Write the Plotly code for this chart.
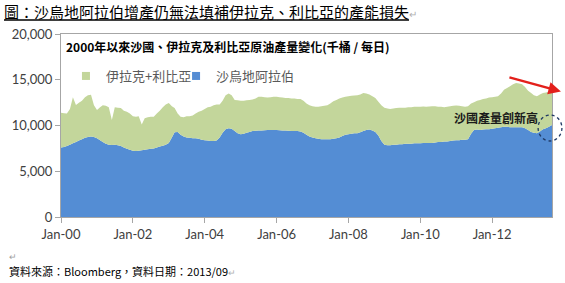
import pandas as pd
import plotly.graph_objects as go

# ---- data (thousand barrels / day), monthly Jan-2000 .. Sep-2013 ----
months = pd.date_range("2000-01-01", periods=165, freq="MS")

saudi = [
    7600, 7650, 7750, 7900, 8050, 8200, 8350, 8500, 8650, 8750, 8800, 8750,   # 2000
    8600, 8400, 8200, 8000, 7900, 7880, 7900, 7850, 7750, 7600, 7450, 7350,   # 2001
    7250, 7200, 7250, 7300, 7350, 7400, 7450, 7500, 7600, 7700, 7800, 7900,   # 2002
    8100, 8700, 9250, 9300, 9000, 8800, 8700, 8650, 8600, 8600, 8550, 8450,   # 2003
    8400, 8350, 8300, 8300, 8350, 8700, 9200, 9600, 9700, 9650, 9400, 9150,   # 2004
    9050, 9100, 9200, 9300, 9400, 9420, 9450, 9450, 9480, 9500, 9500, 9500,   # 2005
    9500, 9480, 9450, 9450, 9430, 9400, 9400, 9400, 9350, 9200, 9000, 8800,   # 2006
    8700, 8600, 8550, 8500, 8500, 8500, 8500, 8550, 8600, 8700, 8850, 9000,   # 2007
    9050, 9100, 9150, 9150, 9250, 9400, 9500, 9550, 9450, 9300, 8900, 8300,   # 2008
    7900, 7850, 7850, 7900, 7900, 7950, 7950, 8000, 8000, 8000, 8050, 8050,   # 2009
    8050, 8100, 8100, 8100, 8100, 8150, 8200, 8200, 8250, 8250, 8300, 8350,   # 2010
    8400, 8400, 8450, 8450, 8500, 9100, 9500, 9550, 9500, 9550, 9600, 9600,   # 2011
    9650, 9700, 9750, 9800, 9850, 9850, 9800, 9800, 9800, 9820, 9800, 9700,   # 2012
    9500, 9300, 9200, 9150, 9350, 9600, 9700, 9850, 10050,                    # 2013
]

# top of the stacked area (Saudi + Iraq + Libya)
total = [
    11400, 11350, 11300, 11800, 13100, 12250, 12500, 12700, 13100, 13300, 13350, 12200,
    11700, 12000, 12200, 12150, 12000, 10600, 12000, 11950, 11900, 11600, 11500, 11300,
    11000, 10950, 11000, 10100, 10800, 10900, 10950, 10950, 11300, 11600, 12000, 12300,
    12450, 12100, 11900, 11300, 10950, 10900, 11000, 11000, 11100, 11300, 11500, 11600,
    11800, 12000, 12050, 12200, 12300, 12300, 12700, 13300, 13500, 13300, 12800, 12750,
    12700, 12700, 12750, 12800, 12850, 12950, 13150, 13150, 13100, 13050, 13100, 13150,
    13150, 13100, 13050, 13000, 13000, 12950, 12950, 12900, 12900, 12700, 12400, 12200,
    12100, 12050, 12050, 12100, 12150, 12200, 12400, 12650, 12800, 12950, 13050, 13150,
    13200, 13250, 13280, 13300, 13400, 13550, 13500, 13400, 13200, 13000, 12600, 12200,
    11950, 11850, 11800, 11850, 11900, 11950, 11950, 11950, 12000, 12000, 12050, 12050,
    12050, 12070, 12050, 12080, 12100, 12100, 12050, 12050, 12000, 12050, 12100, 12150,
    12180, 12150, 12100, 12050, 12100, 12400, 12550, 12700, 12800, 12900, 12950, 13050,
    13100, 13150, 13200, 13500, 13900, 14100, 14300, 14500, 14650, 14600, 14500, 14200,
    13800, 13550, 13300, 13200, 13400, 13550, 13600, 13700, 13750,
]
iraq_libya = [t - s for t, s in zip(total, saudi)]

x_tick_vals = ["2000-01-01", "2002-01-01", "2004-01-01", "2006-01-01",
               "2008-01-01", "2010-01-01", "2012-01-01"]
x_tick_text = ["Jan-00", "Jan-02", "Jan-04", "Jan-06", "Jan-08", "Jan-10", "Jan-12"]
y_tick_vals = [0, 5000, 10000, 15000, 20000]
y_tick_text = ["0", "5,000", "10,000", "15,000", "20,000"]

BLUE = "#548DD4"
GREEN = "#C3D69B"
CJK = "Noto Sans CJK TC"
LAT = "Lato, 'Noto Sans CJK TC'"

fig = go.Figure()
fig.add_trace(go.Scatter(x=months, y=saudi, name="沙烏地阿拉伯", stackgroup="s",
                         mode="none", fillcolor=BLUE, showlegend=False,
                         legendgroup="sa"))
fig.add_trace(go.Scatter(x=months, y=iraq_libya, name="伊拉克+利比亞", stackgroup="s",
                         mode="none", fillcolor=GREEN, showlegend=False,
                         legendgroup="il"))
# legend entries (small squares like the original)
fig.add_trace(go.Scatter(x=[None], y=[None], mode="markers", name="伊拉克+利比亞",
                         marker=dict(symbol="square", size=8, color=GREEN),
                         legendgroup="il", legend="legend"))
fig.add_trace(go.Scatter(x=[None], y=[None], mode="markers", name="沙烏地阿拉伯",
                         marker=dict(symbol="square", size=8, color=BLUE),
                         legendgroup="sa", legend="legend2"))

L, R, T, B = 58, 12, 34, 66
W, H = 565, 283
PW, PH = W - L - R, H - T - B


def px(xp):
    return (xp - L) / PW


def py(yp):
    return 1 - (yp - T) / PH


legend_style = dict(orientation="h", xanchor="left", y=py(76), yanchor="middle",
                    font=dict(family=CJK, size=13, color="#595959"),
                    itemwidth=30, bgcolor="rgba(0,0,0,0)",
                    itemclick=False, itemdoubleclick=False)

fig.update_layout(
    width=W, height=H,
    margin=dict(l=L, r=R, t=T, b=B, pad=0),
    paper_bgcolor="white", plot_bgcolor="white",
    title=dict(text="<u>圖：沙烏地阿拉伯增產仍無法填補伊拉克、利比亞的產能損失</u>"
                    "<span style='color:#b0b0b0;font-size:10px'>↵</span>",
               x=4 / W, xanchor="left", y=1 - 13 / H, yanchor="middle",
               font=dict(family=CJK, size=15, color="#000000")),
    showlegend=True,
    legend=dict(x=px(63), **legend_style),
    legend2=dict(x=px(174), **legend_style),
    xaxis=dict(type="date", range=["2000-01-01", "2013-09-01"],
               tickmode="array", tickvals=x_tick_vals, ticktext=x_tick_text,
               ticks="outside", ticklen=5, tickcolor="#a6a6a6",
               showline=True, linecolor="#a6a6a6", linewidth=1, mirror=True,
               showgrid=False, zeroline=False,
               tickfont=dict(family=LAT, size=13, color="#404040")),
    yaxis=dict(range=[0, 20000], tickmode="array", tickvals=y_tick_vals,
               ticktext=y_tick_text, ticks="outside", ticklen=5, tickcolor="#a6a6a6",
               showline=True, linecolor="#a6a6a6", linewidth=1, mirror=True,
               showgrid=False, zeroline=False,
               tickfont=dict(family=LAT, size=13, color="#404040")),
)

# inner chart title
fig.add_annotation(xref="paper", yref="paper", x=px(61), y=py(47),
                   xanchor="left", yanchor="middle", showarrow=False,
                   text="<b>2000年以來沙國、伊拉克及利比亞原油產量變化(千桶 / 每日)</b>",
                   font=dict(family=CJK, size=12, color="#000000"))
# callout text
fig.add_annotation(xref="paper", yref="paper", x=px(497), y=py(117),
                   xanchor="center", yanchor="middle", showarrow=False,
                   text="<b>沙國產量創新高</b>",
                   font=dict(family=CJK, size=12, color="#1a1a1a"))
# red arrow
fig.add_annotation(xref="paper", yref="paper", x=px(562), y=py(91.5),
                   ax=-53, ay=-14.5, axref="pixel", ayref="pixel",
                   text="", showarrow=True, arrowhead=2, arrowsize=1,
                   arrowwidth=2.5, arrowcolor="#E3201B")
# dotted circle
fig.add_shape(type="circle", xref="paper", yref="paper",
              x0=px(539), x1=px(563), y0=py(141), y1=py(115),
              line=dict(color="#1F3864", width=1.3, dash="dot"))
# footer
fig.add_annotation(xref="paper", yref="paper", x=px(4), y=py(256),
                   xanchor="left", yanchor="middle", showarrow=False,
                   text="↵", font=dict(family=CJK, size=9, color="#a0a0a0"))
fig.add_annotation(xref="paper", yref="paper", x=px(4), y=py(271),
                   xanchor="left", yanchor="middle", showarrow=False,
                   text="資料來源：Bloomberg，資料日期：2013/09"
                        "<span style='color:#b0b0b0;font-size:9px'>↵</span>",
                   font=dict(family=CJK, size=11, color="#000000"))

fig.write_html("out.html")
